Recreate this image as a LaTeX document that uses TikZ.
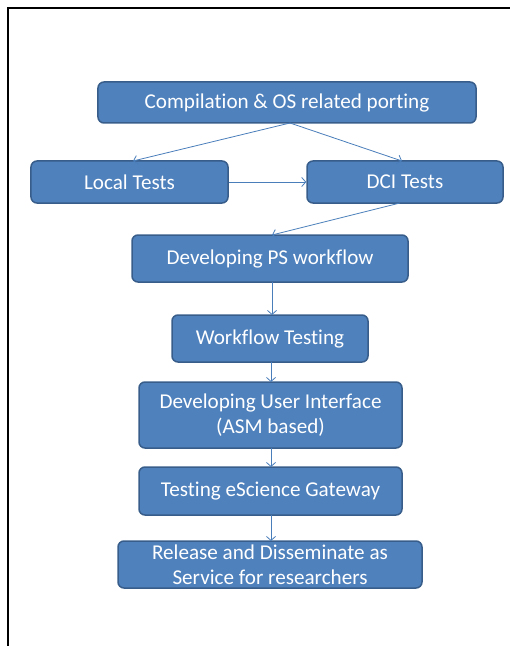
\documentclass[tikz,border=0pt]{standalone}
\usepackage{fontspec}
\setmainfont{Carlito}[Ligatures=NoCommon]
\usetikzlibrary{arrows.meta}
\definecolor{boxfill}{HTML}{4F81BD}
\definecolor{boxline}{HTML}{385D8A}
\definecolor{arrowcol}{HTML}{4A7EBB}
\begin{document}
\begin{tikzpicture}[x=1bp,y=-1bp,
  stepbox/.style={draw=boxline,line width=1.5bp,fill=boxfill,rounded corners=6bp,
    text=white,font=\fontsize{21.2}{25}\selectfont,align=center,inner sep=0pt},
  conn/.style={draw=arrowcol,line width=0.8bp,-{Straight Barb[length=4bp,width=9bp]}}]
\useasboundingbox (0,0) rectangle (510,646);
\draw[line width=2.2bp] (8,646) -- (8,8) -- (510,8);
\node[stepbox,minimum width=378bp,minimum height=41bp] (comp) at (287,102.5) {Compilation \& OS related porting};
\node[stepbox,minimum width=197bp,minimum height=42bp] (local) at (129.5,182) {Local Tests};
\node[stepbox,minimum width=196bp,minimum height=42bp] (dci) at (405,182) {DCI Tests};
\node[stepbox,minimum width=276bp,minimum height=47bp] (dev) at (270,258.5) {Developing PS workflow};
\node[stepbox,minimum width=196bp,minimum height=47bp] (wft) at (270,338.5) {Workflow Testing};
\node[stepbox,minimum width=263bp,minimum height=66bp] (ui) at (270.5,415) {Developing User Interface\\(ASM based)};
\node[stepbox,minimum width=263bp,minimum height=48bp] (gate) at (270.5,491) {Testing eScience Gateway};
\node[stepbox,minimum width=304bp,minimum height=47bp] (rel) at (270,564.5) {Release and Disseminate as\\Service for researchers};
\draw[conn] (290,123) -- (133,161);
\draw[conn] (290,123) -- (402,161);
\draw[conn] (local.east) -- (dci.west);
\draw[conn] (400,203) -- (272,235);
\draw[conn] (272,282) -- (272,315);
\draw[conn] (271,362) -- (271,382);
\draw[conn] (271,448) -- (271,467);
\draw[conn] (271,515) -- (271,541);
\end{tikzpicture}
\end{document}
